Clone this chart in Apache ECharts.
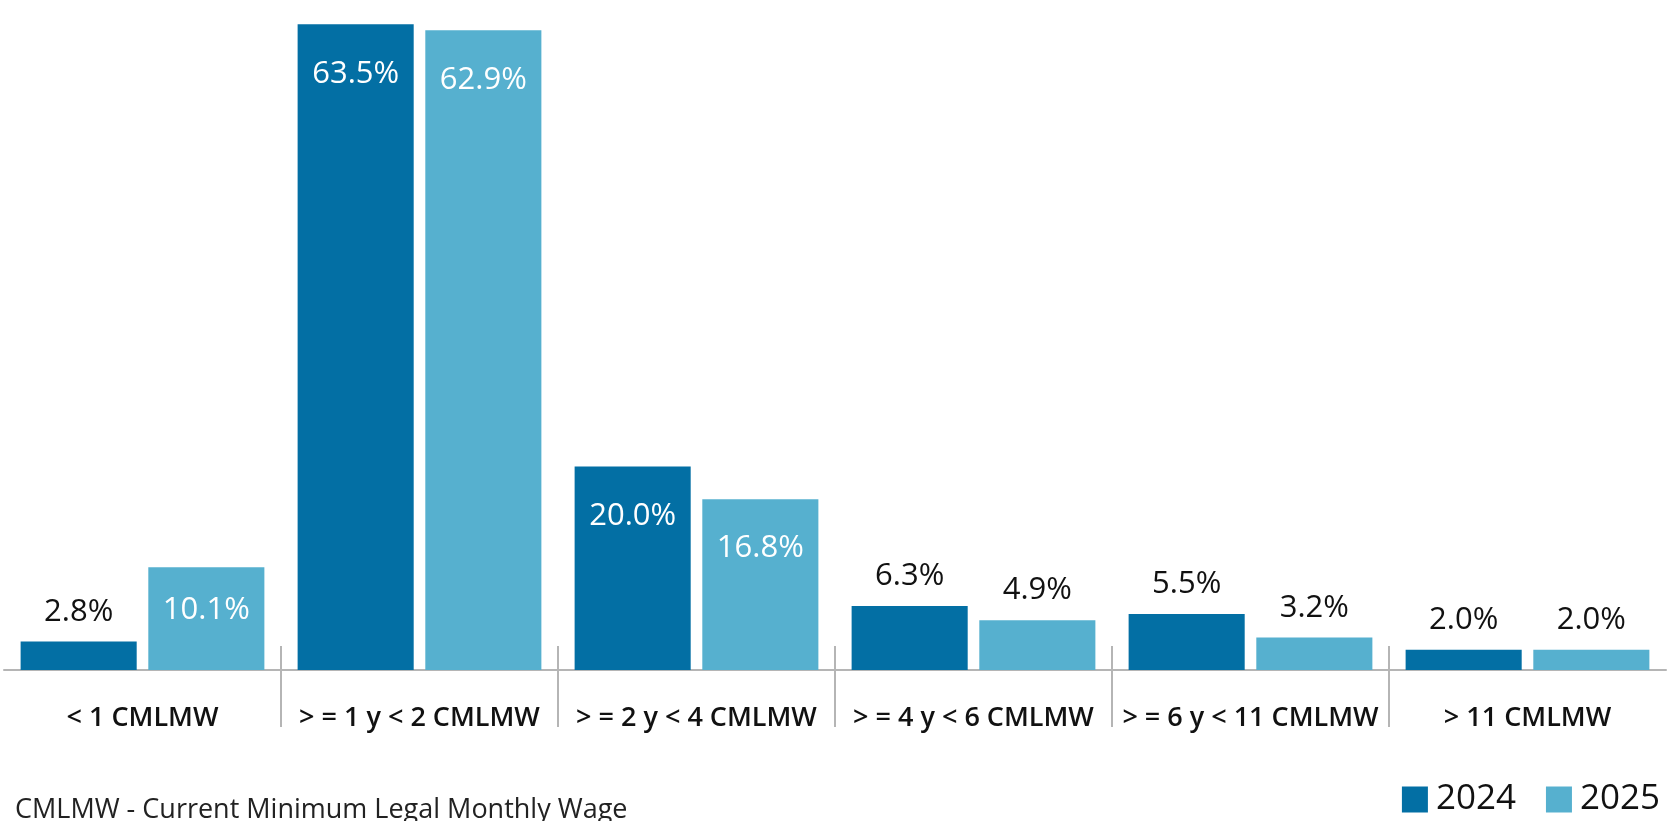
<!DOCTYPE html>
<html>
<head>
<meta charset="utf-8">
<title>Income distribution by CMLMW band</title>
<script src="https://cdn.jsdelivr.net/npm/echarts@6/dist/echarts.min.js"></script>
<style>
  html, body { margin: 0; padding: 0; background: #ffffff; }
  #chart { width: 1669px; height: 821px; }
</style>
</head>
<body>
<div id="chart"></div>
<script>
// Income bands, in multiples of the current minimum legal monthly wage
const categories = ['< 1 CMLMW', '> = 1 y < 2 CMLMW', '> = 2 y < 4 CMLMW', '> = 4 y < 6 CMLMW', '> = 6 y < 11 CMLMW', '> 11 CMLMW'];
const seriesNames = ['2024', '2025'];
const values2024 = [2.8, 63.5, 20.0, 6.3, 5.5, 2.0];
const values2025 = [10.1, 62.9, 16.8, 4.9, 3.2, 2.0];
const footnote = 'CMLMW - Current Minimum Legal Monthly Wage';

const COLORS = ['#036fa4', '#56b0cf'];
const FONT = '"Open Sans", "Noto Sans", sans-serif';

// Tall bars carry their value inside in white; short bars carry it above in black
function buildData(values) {
  return values.map(function (v) {
    const inside = v >= 10;
    return {
      value: v,
      label: inside
        ? { position: 'insideTop', distance: v < 12 ? 27 : 34, color: '#ffffff' }
        : { position: 'top', distance: 14, color: '#111111' }
    };
  });
}

// Band separators sit between categories (value space 0..n)
const separators = categories.slice(1).map(function (_, i) { return i + 1; });

const chart = echarts.init(document.getElementById('chart'), null, { renderer: 'canvas' });

const valueLabel = {
  show: true,
  fontFamily: FONT,
  fontSize: 31,
  fontWeight: 500,
  formatter: function (p) { return p.value.toFixed(1) + '%'; }
};

const option = {
  backgroundColor: '#ffffff',
  animation: false,
  textStyle: { fontFamily: FONT },
  grid: { left: 4, right: 3, top: 9, bottom: 151, containLabel: false },
  legend: {
    data: seriesNames,
    right: 4,
    top: 777,
    icon: 'rect',
    itemWidth: 26,
    itemHeight: 26,
    itemGap: 30,
    textStyle: { fontFamily: FONT, fontSize: 35, color: '#111111', padding: [0, 0, 0, 3] }
  },
  xAxis: [
    {
      type: 'category',
      data: categories,
      position: 'bottom',
      axisLine: { show: true, lineStyle: { color: '#b5b5b5', width: 2 } },
      axisTick: { show: false },
      axisLabel: {
        interval: 0,
        margin: 35,
        fontFamily: FONT,
        fontSize: 27,
        fontWeight: 600,
        color: '#111111'
      },
      splitLine: { show: false }
    },
    {
      // separators reaching below the axis line
      type: 'value',
      min: 0,
      max: categories.length,
      position: 'bottom',
      axisLine: { show: false },
      axisLabel: { show: false },
      splitLine: { show: false },
      axisTick: { show: true, inside: false, length: 57, customValues: separators, lineStyle: { color: '#b5b5b5', width: 2 } }
    },
    {
      // separators reaching above the axis line
      type: 'value',
      min: 0,
      max: categories.length,
      position: 'bottom',
      axisLine: { show: false },
      axisLabel: { show: false },
      splitLine: { show: false },
      axisTick: { show: true, inside: true, length: 24, customValues: separators, lineStyle: { color: '#b5b5b5', width: 2 } }
    }
  ],
  yAxis: {
    type: 'value',
    min: 0,
    max: 65,
    show: false,
    splitLine: { show: false }
  },
  series: [
    {
      name: seriesNames[0],
      type: 'bar',
      xAxisIndex: 0,
      data: buildData(values2024),
      itemStyle: { color: COLORS[0] },
      barGap: '10%',
      barCategoryGap: '12%',
      label: valueLabel
    },
    {
      name: seriesNames[1],
      type: 'bar',
      xAxisIndex: 0,
      data: buildData(values2025),
      itemStyle: { color: COLORS[1] },
      barGap: '10%',
      barCategoryGap: '12%',
      label: valueLabel
    }
  ],
  graphic: [
    {
      type: 'text',
      left: 15,
      top: 797,
      style: {
        text: footnote,
        font: '27px ' + FONT,
        fill: '#222222'
      }
    }
  ]
};

chart.setOption(option);
</script>
</body>
</html>
